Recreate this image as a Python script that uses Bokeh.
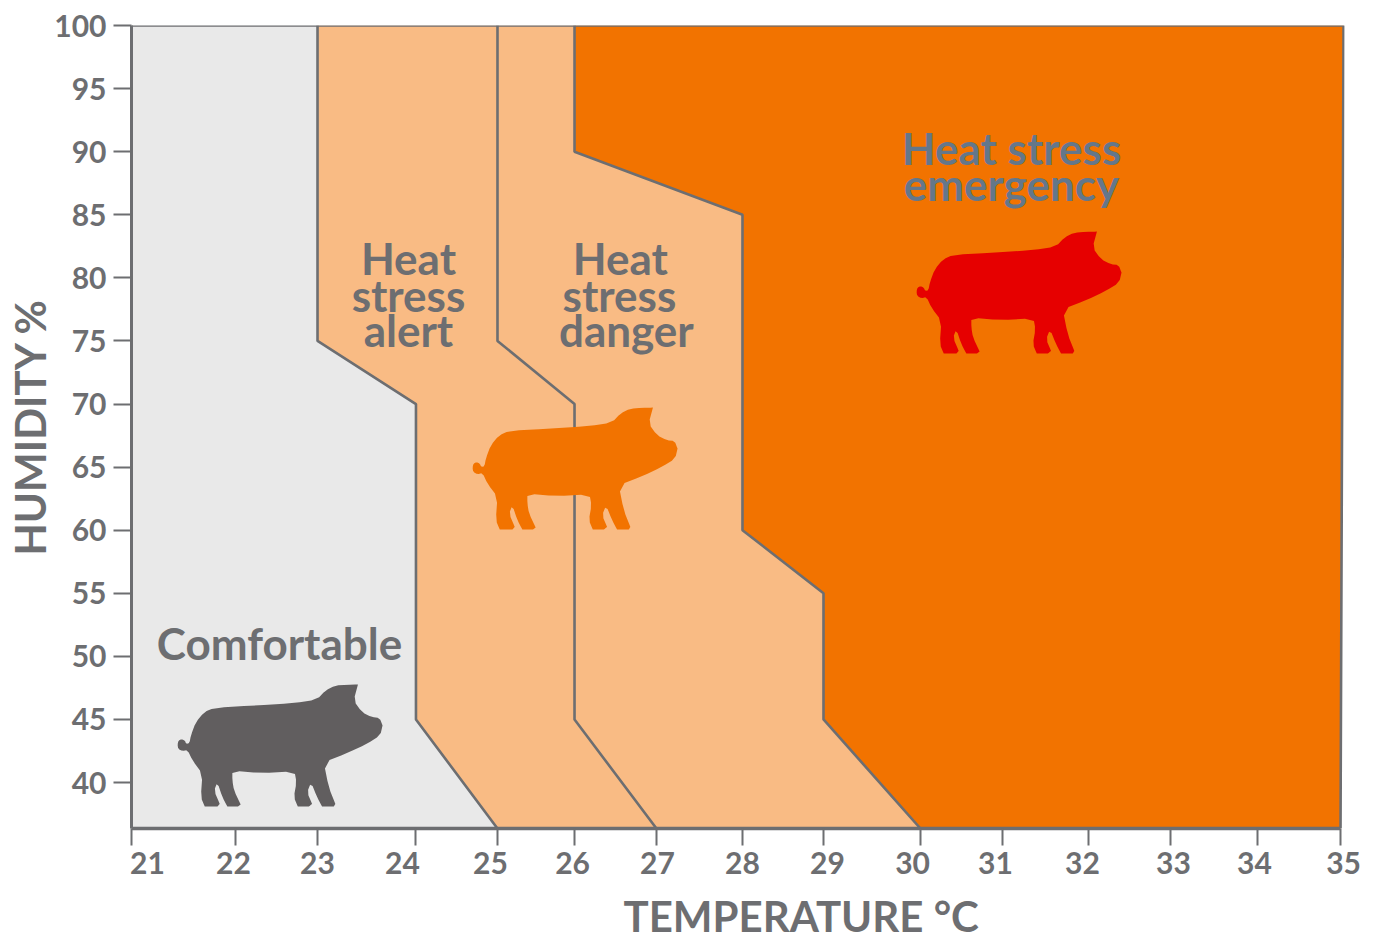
import numpy as np
from bokeh.core.properties import value
from bokeh.embed import file_html
from bokeh.models import FixedTicker, LinearAxis, Range1d, Title
from bokeh.plotting import figure
from bokeh.resources import INLINE

# ---- chart values ---------------------------------------------------------
TEMP_TICKS = list(range(21, 36))
# the source image has irregular tick spacing; where each degree sits on the drawn axis
TEMP_TICK_POS = [21, 22.204, 23.154, 24.294, 25.238, 26.130, 27.079, 28.075,
                 29.013, 30.136, 31.086, 32.082, 33.031, 34.039, 35]
TEMP_LABEL_POS = [21.185, 22.181, 23.154, 24.138, 25.157, 26.107, 27.091, 28.075,
                  29.059, 30.044, 31.005, 32.012, 33.066, 34.004, 35.035]
HUM_TICKS = list(range(40, 101, 5))
HUM_MIN = 36.36

ALERT_T = [23, 23, 24, 24, 25]
ALERT_H = [100, 75, 70, 45, HUM_MIN]
DANGER_T = [25, 25, 26, 26, 27]
DANGER_H = [100, 75, 70, 45, HUM_MIN]
EMERG_T = [26, 26, 28, 28, 29, 29, 30]
EMERG_H = [100, 90, 85, 60, 55, 45, HUM_MIN]

LABEL_TEXT = ["Comfortable", "Heat", "stress", "alert", "Heat", "stress", "danger"]
LABEL_X = [22.714, 24.207, 24.207, 24.207, 26.66, 26.65, 26.73]
LABEL_Y = [51.1, 81.54, 78.68, 75.83, 81.54, 78.68, 75.83]
EMERG_TEXT = ["Heat stress", "emergency"]
EMERG_X = [31.19, 31.19]
EMERG_Y = [90.33, 87.4]

# pig silhouette, traced (arbitrary outline units, y downward)
PIG_X = [530, 533, 542, 552, 556, 566, 570, 585, 610, 640, 760, 880, 950, 975, 1005, 1040, 1073, 1073,
         1060, 1085, 1115, 1138, 1147, 1147, 1140, 1100, 1040, 970, 985, 1005, 1005, 1000, 1000, 965, 965, 950, 932,
         920, 935, 935, 925, 925, 892, 892, 880, 888, 882, 780, 695, 695, 700, 720, 720, 712, 712, 680, 680, 665, 650,
         640, 657, 657, 650, 650, 612, 612, 600, 605, 575, 560, 545, 532]
PIG_Y = [432, 420, 416, 420, 430, 428, 405, 365, 335, 322, 315, 308, 297, 270, 255, 253, 252, 252,
         300, 335, 350, 352, 375, 375, 405, 430, 458, 485, 560, 610, 610, 618, 618, 618, 618, 590, 545,
         575, 610, 610, 618, 618, 618, 618, 590, 545, 512, 518, 510, 540, 570, 612, 612, 618, 618, 618, 618, 590, 545,
         570, 610, 610, 618, 618, 618, 618, 590, 520, 480, 448, 452, 445]
PIG_ANCHOR_T = [21.533, 24.949, 30.09]
PIG_ANCHOR_H = [38.10, 60.05, 74.0]
PIG_COLORS = ["#615e5f", "#f27300", "#e60000"]
PIG_W, PIG_H = 2.374, 9.67

GREY_BG, PEACH, ORANGE = "#e9e9e9", "#f9bb84", "#f27300"
INK = "#6d6e71"
FONT = "Lato"
X_END = 35.046
X_TOP_RIGHT = 35.035


def tx(t):
    return np.interp(t, TEMP_TICKS, TEMP_TICK_POS).tolist()


def smooth(xs, ys, passes=1, r=0.25):
    """Corner-cutting so the traced outline reads as a curve."""
    a = np.column_stack([xs, ys])
    for _ in range(passes):
        b = np.roll(a, -1, axis=0)
        a = np.column_stack([(1 - r) * a + r * b, r * a + (1 - r) * b]).reshape(-1, 2)
    return a[:, 0], a[:, 1]


p = figure(frame_width=1213, frame_height=803, output_backend="svg", toolbar_location=None,
           x_range=Range1d(21, X_END), y_range=Range1d(HUM_MIN, 100), x_axis_type=None,
           y_axis_type=None, min_border_left=131, min_border_top=25, min_border_right=23,
           min_border_bottom=108, outline_line_color=None, background_fill_color="white")
p.grid.visible = False

# regions
ax, dx, ex = tx(ALERT_T), tx(DANGER_T), tx(EMERG_T)
p.patch([21] + ax + [21], [100] + ALERT_H + [HUM_MIN], color=GREY_BG, line_color=None)
p.patch(ax + dx[::-1], ALERT_H + DANGER_H[::-1], color=PEACH, line_color=None)
p.patch(dx + ex[::-1], DANGER_H + EMERG_H[::-1], color=PEACH, line_color=None)
p.patch(ex + [35, X_TOP_RIGHT], EMERG_H + [HUM_MIN, 100], color=ORANGE, line_color=None)
for xs, ys in ((ax, ALERT_H), (dx, DANGER_H), (ex, EMERG_H)):
    p.line(xs, ys, line_color=INK, line_width=2.6)
p.line([21, X_TOP_RIGHT, 35], [100, 100, HUM_MIN], line_color=INK, line_width=2.6)

# pigs
sx, sy = smooth(PIG_X, PIG_Y)
nx = (sx - min(PIG_X)) / (max(PIG_X) - min(PIG_X))
ny = (max(PIG_Y) - sy) / (max(PIG_Y) - min(PIG_Y))
for t0, h0, c in zip(PIG_ANCHOR_T, PIG_ANCHOR_H, PIG_COLORS):
    p.patch((t0 + nx * PIG_W).tolist(), (h0 + ny * PIG_H).tolist(), color=c, line_color=None)

# texts
p.text(LABEL_X, LABEL_Y, text=LABEL_TEXT, text_color=INK, text_font=value(FONT),
       text_font_size="44px", text_font_style="bold", text_align="center", text_baseline="middle")
p.text(EMERG_X, EMERG_Y, text=EMERG_TEXT, text_color="#64778a", text_font=value(FONT),
       text_font_size="44px", text_font_style="bold", text_align="center", text_baseline="middle")

# axes
yax = LinearAxis(ticker=FixedTicker(ticks=HUM_TICKS), axis_label="HUMIDITY %")
yax.axis_line_color = INK
yax.axis_line_width = 3
yax.major_tick_line_color = INK
yax.major_tick_line_width = 2
yax.major_tick_in = 0
yax.major_tick_out = 18
yax.minor_tick_line_color = None
yax.major_label_standoff = 7
yax.major_label_text_color = INK
yax.major_label_text_font = FONT
yax.major_label_text_font_size = "30px"
yax.major_label_text_font_style = "bold"
yax.axis_label_text_color = INK
yax.axis_label_text_font = FONT
yax.axis_label_text_font_size = "42px"
yax.axis_label_text_font_style = "bold"
yax.axis_label_standoff = -4
p.add_layout(yax, "left")

tick_ax = LinearAxis(ticker=FixedTicker(ticks=TEMP_TICK_POS), bounds=(21, 35))
tick_ax.major_label_overrides = {v: "" for v in TEMP_TICK_POS}
tick_ax.major_label_text_font_size = "1px"
tick_ax.major_label_standoff = 0
tick_ax.axis_line_color = INK
tick_ax.axis_line_width = 3.5
tick_ax.major_tick_line_color = INK
tick_ax.major_tick_line_width = 2
tick_ax.major_tick_in = 0
tick_ax.major_tick_out = 17
tick_ax.minor_tick_line_color = None
p.add_layout(tick_ax, "below")

lab_ax = LinearAxis(ticker=FixedTicker(ticks=TEMP_LABEL_POS))
lab_ax.major_label_overrides = dict(zip(TEMP_LABEL_POS, [str(t) for t in TEMP_TICKS]))
lab_ax.axis_line_color = None
lab_ax.major_tick_line_color = None
lab_ax.minor_tick_line_color = None
lab_ax.major_tick_in = 0
lab_ax.major_tick_out = 0
lab_ax.major_label_standoff = 6
lab_ax.major_label_text_color = INK
lab_ax.major_label_text_font = FONT
lab_ax.major_label_text_font_size = "30px"
lab_ax.major_label_text_font_style = "bold"
p.add_layout(lab_ax, "below")

# the axis title sits right of the frame's centre in the source
p.add_layout(Title(text="TEMPERATURE °C", align="left", offset=492, standoff=24, text_color=INK,
                   text_font=FONT, text_font_size="42px", text_font_style="bold"), "below")

open("out.html", "w").write(file_html(p, INLINE))
